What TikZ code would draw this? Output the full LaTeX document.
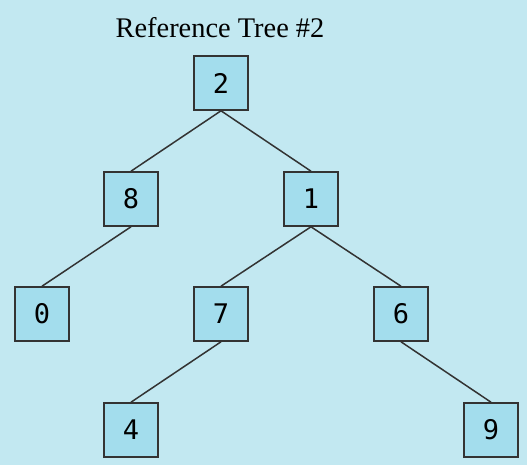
\documentclass[tikz,border=0pt]{standalone}
\usepackage{fontspec}
\setmainfont{Liberation Serif}
\newfontfamily\digitfont{DejaVu Sans Mono}
\definecolor{bgblue}{HTML}{C2E8F1}
\definecolor{boxblue}{HTML}{A3DDED}
\definecolor{edgegray}{HTML}{333333}
\begin{document}
\begin{tikzpicture}[x=1pt,y=-1pt,
  treebox/.style={draw=edgegray,line width=1.6pt,fill=boxblue,minimum width=54pt,minimum height=54pt,inner sep=0pt,font=\digitfont\fontsize{27}{27}\selectfont},
  treeedge/.style={draw=edgegray,line width=1.5pt}]
\fill[bgblue] (0,0) rectangle (527,465);
\useasboundingbox (0,0) rectangle (527,465);
\node[font=\fontsize{28.4}{29}\selectfont] (title) at (220,27.5) {Reference Tree \#2};
\node[treebox] (n2) at (221,83) {2};
\node[treebox] (n8) at (131,199) {8};
\node[treebox] (n1) at (311,199) {1};
\node[treebox] (n0) at (42,314) {0};
\node[treebox] (n7) at (221,314) {7};
\node[treebox] (n6) at (401,314) {6};
\node[treebox] (n4) at (131,430) {4};
\node[treebox] (n9) at (491,430) {9};
\draw[treeedge] (n2.south) -- (n8.north);
\draw[treeedge] (n2.south) -- (n1.north);
\draw[treeedge] (n8.south) -- (n0.north);
\draw[treeedge] (n1.south) -- (n7.north);
\draw[treeedge] (n1.south) -- (n6.north);
\draw[treeedge] (n7.south) -- (n4.north);
\draw[treeedge] (n6.south) -- (n9.north);
\end{tikzpicture}
\end{document}
